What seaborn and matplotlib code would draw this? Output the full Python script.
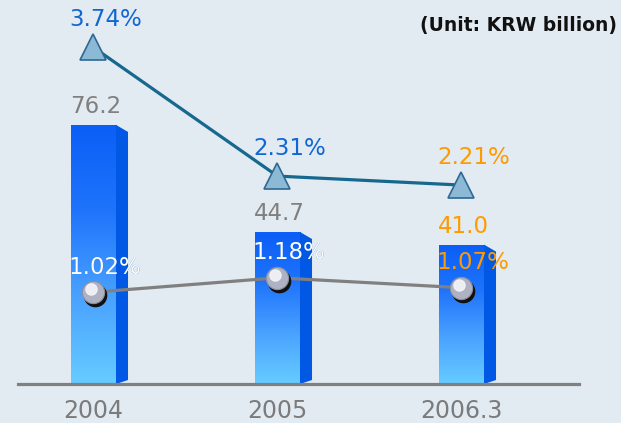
import numpy as np
import pandas as pd
import matplotlib
matplotlib.use("Agg")
import matplotlib.pyplot as plt
import matplotlib.transforms as mtransforms
from matplotlib.colors import LinearSegmentedColormap
from matplotlib.patches import Polygon
import seaborn as sns

# --- data ---
years = ["2004", "2005", "2006.3"]
amount = [76.2, 44.7, 41.0]          # KRW billion (bars)
ratio_top = [3.74, 2.31, 2.21]       # triangle line (%)
ratio_low = [1.02, 1.18, 1.07]       # sphere line (%)

# --- style ---
BG = "#e2eaf2"
GRAY = "#808080"
BLUE_TXT = "#1266d4"
ORANGE = "#ff9a00"
TEAL = "#17688e"
amount_colors = [GRAY, GRAY, ORANGE]
top_colors = [BLUE_TXT, BLUE_TXT, ORANGE]
low_colors = [BLUE_TXT, BLUE_TXT, ORANGE]
low_white = [True, True, False]      # white where the label sits on the bar

W, H, DPI = 621, 423, 100
BASE = 384                      # baseline, pixels from top
PX_BAR = 3.40                   # pixels per KRW billion
PX_PCT = 90.0                   # pixels per percent

fig = plt.figure(figsize=(W / DPI, H / DPI), dpi=DPI, facecolor=BG)
ax = fig.add_axes([0, (H - BASE) / H, 1, BASE / H])
ax.set_facecolor("none")

df = pd.DataFrame({"year": years, "amount": amount})
sns.barplot(data=df, x="year", y="amount", width=0.245, color="#1060f5",
            linewidth=0, ax=ax, zorder=2)

xlim = (-0.508, 2.867)
ylim = (0, BASE / PX_BAR)
sx = W / (xlim[1] - xlim[0])
sy = PX_BAR

# gradient front faces + flat side faces for the 3D look
cmap = LinearSegmentedColormap.from_list(
    "bar", ["#66ccff", "#4aa2ff", "#1f74fb", "#0b5ef6"])
grad = np.linspace(0, 1, 256).reshape(-1, 1)
outlines = []
for p in list(ax.patches):
    x0, y0 = p.get_x(), p.get_y()
    x1, h = x0 + p.get_width(), p.get_height()
    p.set_facecolor("none")
    p.set_edgecolor("none")
    im = ax.imshow(grad, extent=[x0, x1, y0, h], origin="lower", aspect="auto",
                   cmap=cmap, zorder=2, interpolation="bilinear")
    im.set_clip_path(p)
    dx = 12 / sx
    side = Polygon([(x1, h), (x1 + dx, h - 7 / sy), (x1 + dx, 4 / sy), (x1, 0)],
                   closed=True, facecolor="#0058e4", edgecolor="none", zorder=2)
    ax.add_patch(side)
    outlines.append(Polygon([(x0, 0), (x0, h), (x1, h), (x1 + dx, h - 7 / sy),
                             (x1 + dx, 4 / sy), (x1, 0)], closed=True,
                            transform=ax.transData))

for i, v in enumerate(amount):
    ax.annotate(f"{v:.1f}", (i, v), xytext=(2, 7), textcoords="offset pixels",
                ha="center", va="bottom", fontsize=16.5, color=amount_colors[i])

ax.axhline(0, xmin=18 / W, xmax=579 / W, color=GRAY, lw=2.3, clip_on=False, zorder=3)

ax.set_xlim(*xlim)
ax.set_ylim(*ylim)
ax.set_xticks(range(len(years)))
ax.set_xticklabels(years, fontsize=17, color="#7b7b7b")
ax.tick_params(axis="x", length=0, pad=11)
ax.set_yticks([])
ax.set_xlabel("")
ax.set_ylabel("")
for s in ax.spines.values():
    s.set_visible(False)

# --- percentage lines on a twin axis ---
ax2 = ax.twinx()
ax2.set_facecolor("none")
idx = np.arange(len(years))

sns.lineplot(x=idx, y=ratio_top, ax=ax2, color=TEAL, linewidth=2.3,
             marker="^", markersize=19, markerfacecolor="#8cbad6",
             markeredgecolor="#2f6890", markeredgewidth=1.2, zorder=4)

sns.lineplot(x=idx, y=ratio_low, ax=ax2, color=GRAY, linewidth=2.3, zorder=4)
shadow = mtransforms.offset_copy(ax2.transData, fig=fig, x=2, y=-3, units="dots")
ax2.plot(idx, ratio_low, "o", ms=16, color="#111111", transform=shadow, zorder=5)
ax2.plot(idx, ratio_low, "o", ms=16, color="#aeb2c2", mec="#8a8ea0", mew=0.8, zorder=6)
hl = mtransforms.offset_copy(ax2.transData, fig=fig, x=-2, y=3, units="dots")
ax2.plot(idx, ratio_low, "o", ms=8, color="#f4f5fa", alpha=0.9, transform=hl, zorder=7)

for i, v in enumerate(ratio_top):
    ax2.annotate(f"{v:.2f}%", (i, v), xytext=(12, 28), textcoords="offset pixels",
                 ha="center", va="center", fontsize=16.5, color=top_colors[i])

for i, v in enumerate(ratio_low):
    ax2.annotate(f"{v:.2f}%", (i, v), xytext=(11, 25), textcoords="offset pixels",
                 ha="center", va="center", fontsize=16.5, color=low_colors[i], zorder=8)
    if low_white[i]:
        t = ax2.annotate(f"{v:.2f}%", (i, v), xytext=(11, 25), textcoords="offset pixels",
                         ha="center", va="center", fontsize=16.5, color="white", zorder=9)
        t.set_clip_path(outlines[i])

ax2.set_ylim(0, BASE / PX_PCT)
ax2.set_xlim(*xlim)
ax2.set_yticks([])
ax2.set_ylabel("")
for s in ax2.spines.values():
    s.set_visible(False)

fig.text(617 / W, 1 - 26 / H, "(Unit: KRW billion)", ha="right", va="center",
         fontsize=13.5, fontweight="bold", color="#111111")

fig.savefig("out.png", dpi=DPI, facecolor=BG)
